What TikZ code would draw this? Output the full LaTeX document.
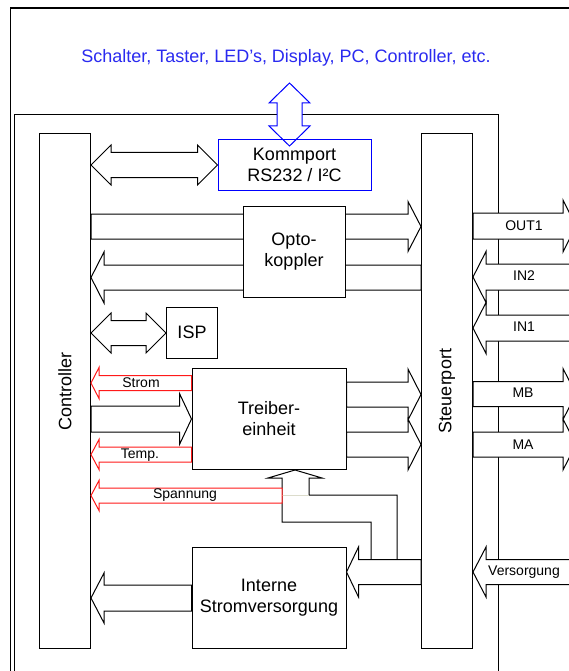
\documentclass[tikz,border=0pt]{standalone}
\usepackage{fontspec}
\setmainfont{Liberation Sans}
\usetikzlibrary{calc}
\definecolor{kommblue}{HTML}{0000FF}
\definecolor{extblue}{HTML}{2A2AF0}
\definecolor{sensred}{HTML}{FF1A1A}
\definecolor{faint}{HTML}{DCDCCC}
\tikzset{
  box/.style={draw=black,fill=white,line width=1pt,align=center,
              inner sep=0pt,font=\fontsize{18}{21}\selectfont},
  bluebox/.style={box,draw=kommblue,fill=none},
  portbox/.style={box,minimum width=51,minimum height=514},
  blk/.style={draw=black,fill=white,line width=1pt,line join=miter},
  redblk/.style={blk,draw=sensred},
  blueblk/.style={blk,draw=kommblue},
  lbl/.style={font=\fontsize{14}{16}\selectfont,inner sep=0pt},
  vlbl/.style={font=\fontsize{18}{21}\selectfont,inner sep=0pt,rotate=90}
}
% block arrow: [style]{tail}{tip}{y}{shaft half}{head half}{head length}
\newcommand\barrow[7][]{%
  \path[blk,#1] let \p1=(#2 |- 0,#4), \p2=(#3 |- 0,#4),
    \n1={sign(\x2-\x1)*#7} in
    (\x1,\y1+#5) -- (\x2-\n1,\y1+#5) -- (\x2-\n1,\y1+#6) -- (\x2,\y1)
    -- (\x2-\n1,\y1-#6) -- (\x2-\n1,\y1-#5) -- (\x1,\y1-#5) -- cycle;}
% double block arrow: [style]{left}{right}{y}{shaft half}{head half}{head length}
\newcommand\dblarrow[7][]{%
  \path[blk,#1] let \p1=(#2 |- 0,#4), \p2=(#3 |- 0,#4) in
    (\x1,\y1) -- (\x1+#7,\y1+#6) -- (\x1+#7,\y1+#5) -- (\x2-#7,\y1+#5)
    -- (\x2-#7,\y1+#6) -- (\x2,\y1) -- (\x2-#7,\y1-#6) -- (\x2-#7,\y1-#5)
    -- (\x1+#7,\y1-#5) -- (\x1+#7,\y1-#6) -- cycle;}

\begin{document}
\begin{tikzpicture}[x=1pt,y=-1pt]
  \clip (0,0) rectangle (569,671);
  \fill[white] (0,0) rectangle (569,671);

  % frames
  \draw[line width=2.5pt] (10,8) -- (580,8);
  \draw[line width=1pt] (10,8) -- (10,680);
  \draw[line width=1pt] (14,680) -- (14,115) -- (498,115) -- (498,680);

  \node[font=\fontsize{18}{21}\selectfont,text=extblue] (ext) at (286,58)
    {Schalter, Taster, LED’s, Display, PC, Controller, etc.};

  \coordinate (rim) at (576,0);
  \coordinate (spend) at (282,0);

  % main boxes
  \node[portbox] (ctrl) at (65,391) {};
  \node[vlbl] (ctrltxt) at (ctrl) {Controller};
  \node[portbox] (steuer) at (447,391) {};
  \node[vlbl] (steuertxt) at (steuer) {Steuerport};

  \barrow{ctrl.east}{steuer.west}{226.5}{12.5}{25}{13}
  \barrow{steuer.west}{ctrl.east}{277.5}{12.5}{25.5}{13}
  \node[box,minimum width=102,minimum height=91] (opto) at (294,251.5)
    {Opto-\\koppler};

  \path[blueblk] (289.5,83) -- (310,103) -- (302,103) -- (302,126)
    -- (310,126) -- (289.5,146) -- (269,126) -- (277,126) -- (277,103)
    -- (269,103) -- cycle;
  \node[bluebox,minimum width=153,minimum height=50] (komm) at (294.5,165)
    {Kommport\\RS232 / I²C};
  \dblarrow{ctrl.east}{komm.west}{165}{12.5}{20}{20}

  \node[box,minimum width=51,minimum height=51] (isp) at (192,332.5) {ISP};
  \dblarrow{ctrl.east}{isp.west}{333}{12.5}{20}{20}

  \node[box,minimum width=154,minimum height=101] (treib) at (269,418.5)
    {Treiber-\\einheit};
  \barrow{ctrl.east}{treib.west}{419}{13}{25.5}{12}
  \barrow{treib.east}{steuer.west}{394.5}{12.5}{25.5}{13}
  \barrow{treib.east}{steuer.west}{444.5}{12.5}{25.5}{13}

  \node[box,minimum width=154,minimum height=101] (intern) at (269,597.5)
    {Interne\\Stromversorgung};
  \barrow{intern.west}{ctrl.east}{598}{13}{25}{13}

  % supply pipe up to the driver
  \path[blk] (295,470) -- (322,478) -- (309,478) -- (309,495) -- (397,495)
    -- (397,559.5) -- (371,559.5) -- (371,522) -- (282,522) -- (282,478)
    -- (268,478) -- cycle;
  \barrow{steuer.west}{intern.east}{572}{12.5}{25}{12}
  \draw[faint,line width=1.5pt] (282,495.5) -- (309,495.5);

  % signals back to the controller
  \barrow[redblk]{treib.west}{ctrl.east}{383}{7.5}{15.5}{8}
  \barrow[redblk]{treib.west}{ctrl.east}{454.5}{7.5}{15}{8}
  \barrow[redblk]{spend}{ctrl.east}{495.5}{7.5}{15}{8}
  \node[lbl] (lstrom) at (141,383) {Strom};
  \node[lbl] (ltemp) at (140,455) {Temp.};
  \node[lbl] (lspann) at (185,495) {Spannung};

  % outside connections
  \barrow{steuer.east}{rim}{226}{13}{26}{13}
  \barrow{rim}{steuer.east}{277}{13}{25.5}{13}
  \barrow{rim}{steuer.east}{328}{13}{25.5}{13}
  \barrow{steuer.east}{rim}{394}{12.5}{25.5}{13}
  \barrow{steuer.east}{rim}{444.5}{12.5}{25.5}{13}
  \barrow{rim}{steuer.east}{572}{12.5}{25}{13}
  \node[lbl] (lout) at (524,226) {OUT1};
  \node[lbl] (lin2) at (524,276) {IN2};
  \node[lbl] (lin1) at (524,327) {IN1};
  \node[lbl] (lmb) at (523,393) {MB};
  \node[lbl] (lma) at (523,445) {MA};
  \node[lbl] (lvers) at (524,572) {Versorgung};
\end{tikzpicture}
\end{document}
